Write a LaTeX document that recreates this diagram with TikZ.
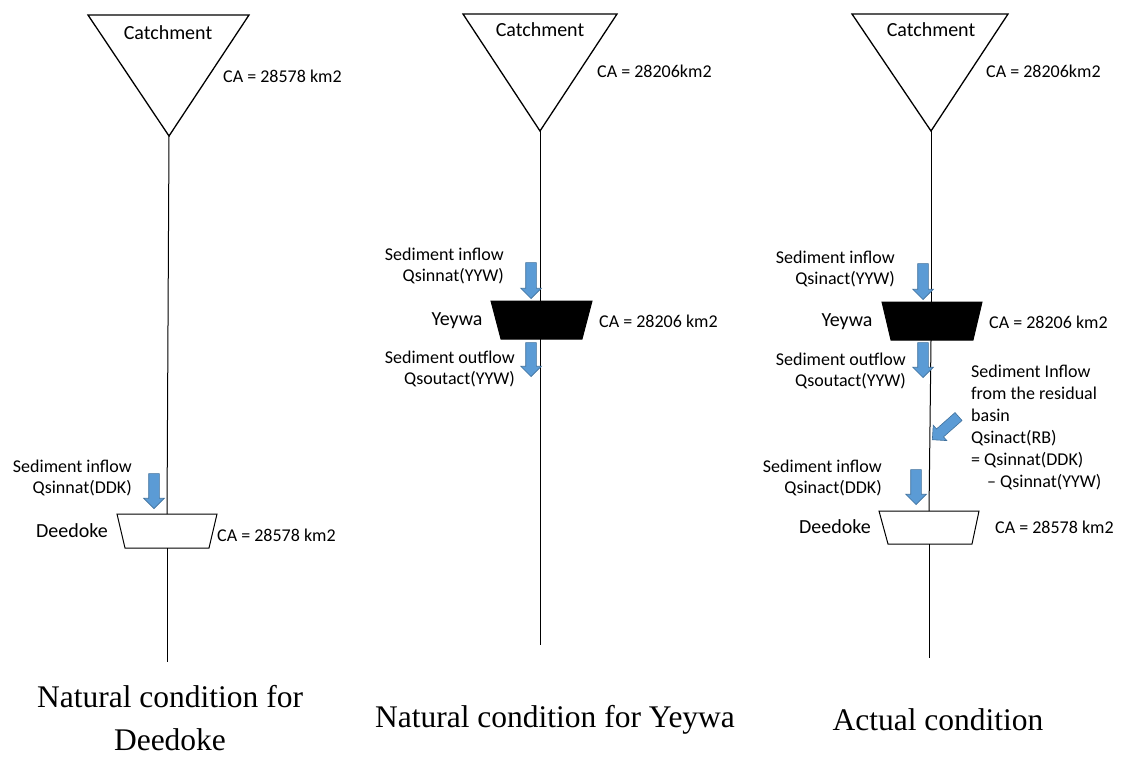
\documentclass[tikz,border=0pt]{standalone}
\usepackage{fontspec}
\setmainfont{Liberation Serif}
\newfontfamily\calibri{Carlito}
\usetikzlibrary{shapes.arrows}
\definecolor{arrowblue}{RGB}{91,155,213}
\definecolor{arrowedge}{RGB}{65,113,156}
\begin{document}
\begin{tikzpicture}[x=1pt,y=-1pt,
  lbl/.style={font=\calibri\fontsize{18}{21}\selectfont, inner sep=0pt},
  damname/.style={font=\calibri\fontsize{20}{24}\selectfont, inner sep=0pt},
  captext/.style={font=\fontsize{31.5}{43}\selectfont, inner sep=0pt, align=center},
  river/.style={draw=black, line width=1pt},
  basin/.style={draw=black, line width=1.3pt, line join=miter},
  dam/.style={draw=black, line width=1pt},
  blockarrow/.style={single arrow, draw=arrowedge, fill=arrowblue, line width=0.6pt,
    inner xsep=0pt, inner ysep=5pt, single arrow head extend=5pt, single arrow tip angle=90,
    minimum height=#1},
  blockarrow/.default=35pt
]
\useasboundingbox (0,0) rectangle (1123,758);

% ---------------- Panel 1 ----------------
\coordinate (c1l) at (88,15);
\coordinate (c1r) at (249,15);
\coordinate (c1a) at (169,136);
\draw[basin] (c1l) -- (c1r) -- (c1a) -- cycle;
\node[damname] (t1) at (168,33) {Catchment};
\node[lbl, anchor=west] (ca1) at (223,76) {CA = 28578 km2};

\coordinate (d1tl) at (117,514);
\coordinate (d1tr) at (217,514);
\coordinate (d1br) at (209,548);
\coordinate (d1bl) at (125,548);
\coordinate (d1t) at (167,514);
\coordinate (d1b) at (167,548);
\coordinate (e1) at (167,662);
\draw[dam] (d1tl) -- (d1tr) -- (d1br) -- (d1bl) -- cycle;
\draw[river] (c1a) -- (d1t);
\draw[river] (d1b) -- (e1);
\node[blockarrow, rotate=-90, anchor=tip] (a1) at (154,509) {};
\node[lbl, anchor=east, align=right] (s1) at (132,478) {Sediment inflow\\Qsinnat(DDK)};
\node[damname] (n1) at (72,531) {Deedoke};
\node[lbl, anchor=west] (ca1b) at (217,535) {CA = 28578 km2};
\node[captext] (cap1) at (170,718) {Natural condition for\\Deedoke};

% ---------------- Panel 2 ----------------
\coordinate (c2l) at (463,14);
\coordinate (c2r) at (617,14);
\coordinate (c2a) at (540,131);
\draw[basin] (c2l) -- (c2r) -- (c2a) -- cycle;
\node[damname] (t2) at (540,30) {Catchment};
\node[lbl, anchor=west] (ca2) at (597,71) {CA = 28206km2};

\coordinate (y2tl) at (491,301);
\coordinate (y2tr) at (592,301);
\coordinate (y2br) at (582,339);
\coordinate (y2bl) at (501,339);
\coordinate (y2t) at (540,301);
\coordinate (y2b) at (540,339);
\coordinate (e2) at (540,645);
\draw[dam, fill=black] (y2tl) -- (y2tr) -- (y2br) -- (y2bl) -- cycle;
\draw[river] (c2a) -- (y2t);
\draw[river] (y2b) -- (e2);
\node[blockarrow=36pt, rotate=-90, anchor=tip] (a2) at (531,299) {};
\node[blockarrow=34pt, rotate=-90, anchor=tip] (a3) at (531,377) {};
\node[lbl, anchor=east, align=right] (s2) at (504,266) {Sediment inflow\\Qsinnat(YYW)};
\node[damname] (n2) at (457,321) {Yeywa};
\node[lbl, anchor=west] (ca2b) at (599,321) {CA = 28206 km2};
\node[lbl, anchor=east, align=right] (o2) at (515,369) {Sediment outflow\\Qsoutact(YYW)};
\node[captext] (cap2) at (555,720) {Natural condition for Yeywa};

% ---------------- Panel 3 ----------------
\coordinate (c3l) at (852,14);
\coordinate (c3r) at (1008,14);
\coordinate (c3a) at (931,131);
\draw[basin] (c3l) -- (c3r) -- (c3a) -- cycle;
\node[damname] (t3) at (931,30) {Catchment};
\node[lbl, anchor=west] (ca3) at (986,71) {CA = 28206km2};

\coordinate (y3tl) at (882,302);
\coordinate (y3tr) at (982,302);
\coordinate (y3br) at (973,340);
\coordinate (y3bl) at (891,340);
\coordinate (y3t) at (931,302);
\coordinate (y3b) at (931,340);
\draw[dam, fill=black] (y3tl) -- (y3tr) -- (y3br) -- (y3bl) -- cycle;

\coordinate (d3tl) at (879,511);
\coordinate (d3tr) at (979,511);
\coordinate (d3br) at (972,544);
\coordinate (d3bl) at (888,544);
\coordinate (d3t) at (929,511);
\coordinate (d3b) at (929,544);
\coordinate (e3) at (929,658);
\draw[dam] (d3tl) -- (d3tr) -- (d3br) -- (d3bl) -- cycle;

\draw[river] (c3a) -- (y3t);
\draw[river] (y3b) -- (d3t);
\draw[river] (d3b) -- (e3);

\node[blockarrow=36pt, rotate=-90, anchor=tip] (a4) at (923,300) {};
\node[blockarrow=35pt, rotate=-90, anchor=tip] (a5) at (923,378) {};
\node[blockarrow=35pt, rotate=221.5, anchor=tip] (a6) at (932,440) {};
\node[blockarrow=35pt, rotate=-90, anchor=tip] (a7) at (916,505) {};

\node[lbl, anchor=east, align=right] (s3) at (895,269) {Sediment inflow\\Qsinact(YYW)};
\node[damname] (n3) at (847,322) {Yeywa};
\node[lbl, anchor=west] (ca3b) at (989,322) {CA = 28206 km2};
\node[lbl, anchor=east, align=right] (o3) at (906,371) {Sediment outflow\\Qsoutact(YYW)};
\node[lbl, anchor=north west, align=left, font=\calibri\fontsize{18}{22}\selectfont] (rb) at (971,365)
  {Sediment Inflow\\from the residual\\basin\\Qsinact(RB)\\= Qsinnat(DDK)\\\hspace*{16pt}– Qsinnat(YYW)};
\node[lbl, anchor=east, align=right] (s3b) at (882,478) {Sediment inflow\\Qsinact(DDK)};
\node[damname] (n3b) at (835,527) {Deedoke};
\node[lbl, anchor=west] (ca3c) at (995,527) {CA = 28578 km2};
\node[captext] (cap3) at (938,720) {Actual condition};
\end{tikzpicture}
\end{document}
